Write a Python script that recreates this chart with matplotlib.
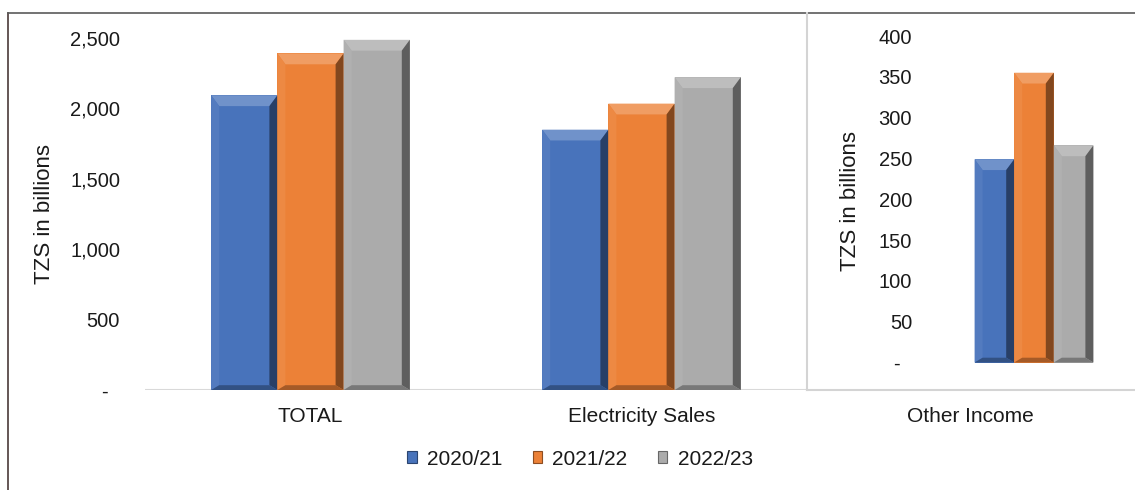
import matplotlib
matplotlib.use("Agg")
import matplotlib.pyplot as plt
from matplotlib.lines import Line2D
from matplotlib.patches import Patch, Polygon
from matplotlib.ticker import FuncFormatter
import matplotlib.colors as mcolors

plt.rcParams["font.family"] = ["Liberation Sans", "DejaVu Sans"]

# data (TZS billions)
main_categories = ["TOTAL", "Electricity Sales"]
other_category = "Other Income"
years = ["2020/21", "2021/22", "2022/23"]
main_values = {
    "2020/21": [2093, 1849],
    "2021/22": [2390, 2034],
    "2022/23": [2487, 2221],
}
other_values = {
    "2020/21": 249,
    "2021/22": 355,
    "2022/23": 266,
}
colors = {"2020/21": "#4873BB", "2021/22": "#EC8137", "2022/23": "#ABABAB"}
text_color = "#1a1a1a"

W, H = 1135, 490
fig = plt.figure(figsize=(W / 100, H / 100), dpi=100)


def px_box(x0, y0, x1, y1):
    # pixel box (top-left origin) -> figure fraction rect
    return [x0 / W, 1 - y1 / H, (x1 - x0) / W, (y1 - y0) / H]


def shade(color, f):
    r, g, b = mcolors.to_rgb(color)
    if f >= 0:
        return (r + (1 - r) * f, g + (1 - g) * f, b + (1 - b) * f)
    return (r * (1 + f), g * (1 + f), b * (1 + f))


def bevel(ax, bar, color, px=8):
    # fake the excel bevel: lighter top/left facets, darker right/bottom
    x0, w, h = bar.get_x(), bar.get_width(), bar.get_height()
    inv = ax.transData.inverted()
    dx, dy = inv.transform((px, px)) - inv.transform((0, 0))
    x1 = x0 + w
    ty = dy * 1.35
    parts = [
        ([(x0, h), (x1, h), (x1 - dx, h - ty), (x0 + dx, h - ty)], shade(color, 0.22)),
        ([(x0, 0), (x0, h), (x0 + dx, h - ty), (x0 + dx, dy * 0.6)], shade(color, 0.06)),
        ([(x1, 0), (x1, h), (x1 - dx, h - ty), (x1 - dx, dy * 0.6)], shade(color, -0.45)),
        ([(x0, 0), (x1, 0), (x1 - dx, dy * 0.6), (x0 + dx, dy * 0.6)], shade(color, -0.3)),
    ]
    for pts, c in parts:
        ax.add_patch(Polygon(pts, closed=True, facecolor=c, edgecolor="none", zorder=3))


def style_axis(ax, pad):
    for s in ax.spines.values():
        s.set_visible(False)
    ax.tick_params(axis="y", length=0, pad=pad, labelsize=14.5, labelcolor=text_color)
    ax.tick_params(axis="x", length=0)


def fmt_thousands(v, pos):
    return "-  " if v == 0 else f"{v:,.0f}"


# left panel
ax1 = fig.add_axes(px_box(145, 38, 807, 390))
style_axis(ax1, 18)
ax1.set_xlim(-0.5, 1.5)
ax1.set_ylim(0, 2500)
ax1.set_yticks(range(0, 2501, 500))
ax1.yaxis.set_major_formatter(FuncFormatter(fmt_thousands))
ax1.set_xticks(range(len(main_categories)))
ax1.set_xticklabels(main_categories, fontsize=15, color=text_color)
ax1.tick_params(axis="x", pad=12)
ax1.axhline(0, color="#d9d9d9", lw=1.5, zorder=1)

bw = 0.2
for i, yr in enumerate(years):
    xs = [k + (i - 1) * bw for k in range(len(main_categories))]
    bars = ax1.bar(xs, main_values[yr], width=bw, color=colors[yr], zorder=2)
    for b in bars:
        bevel(ax1, b, colors[yr])

# right panel
ax2 = fig.add_axes(px_box(935, 36, 1133, 362.5))
style_axis(ax2, 16.5)
ax2.set_xlim(-0.5, 0.5)
ax2.set_ylim(0, 400)
ax2.set_yticks(range(0, 401, 50))
ax2.yaxis.set_major_formatter(FuncFormatter(fmt_thousands))
ax2.set_xticks([])
for i, yr in enumerate(years):
    bars = ax2.bar([(i - 1) * bw], [other_values[yr]], width=bw, color=colors[yr], zorder=2)
    for b in bars:
        bevel(ax2, b, colors[yr])

# axis titles and category label of the right panel
fig.text(44 / W, 1 - 214 / H, "TZS in billions", rotation=90, ha="center", va="center",
         fontsize=16, color=text_color)
fig.text(850 / W, 1 - 201 / H, "TZS in billions", rotation=90, ha="center", va="center",
         fontsize=16, color=text_color)
fig.text(970 / W, 1 - 416 / H, other_category, ha="center", va="center",
         fontsize=15, color=text_color)

# frames
fig.add_artist(Line2D([8 / W, 8 / W], [0, 1 - 13 / H], color="#4a3a38", lw=1.2))
fig.add_artist(Line2D([8 / W, 1], [1 - 13 / H, 1 - 13 / H], color="#5a5a5a", lw=1.2))
fig.add_artist(Line2D([807 / W, 807 / W], [1 - 13 / H, 1 - 390 / H], color="#d4d4d4", lw=1.5))
fig.add_artist(Line2D([807 / W, 1], [1 - 390 / H, 1 - 390 / H], color="#d4d4d4", lw=1.5))

# legend
handles = [Patch(facecolor=colors[yr], edgecolor=shade(colors[yr], -0.4), lw=0.8) for yr in years]
fig.legend(handles, years, loc="center", bbox_to_anchor=(580 / W, 1 - 459 / H), ncol=3,
           frameon=False, fontsize=15, handlelength=0.45, handleheight=0.45,
           handletextpad=0.5, columnspacing=1.45, labelcolor=text_color)

fig.savefig("out.png", dpi=100)
